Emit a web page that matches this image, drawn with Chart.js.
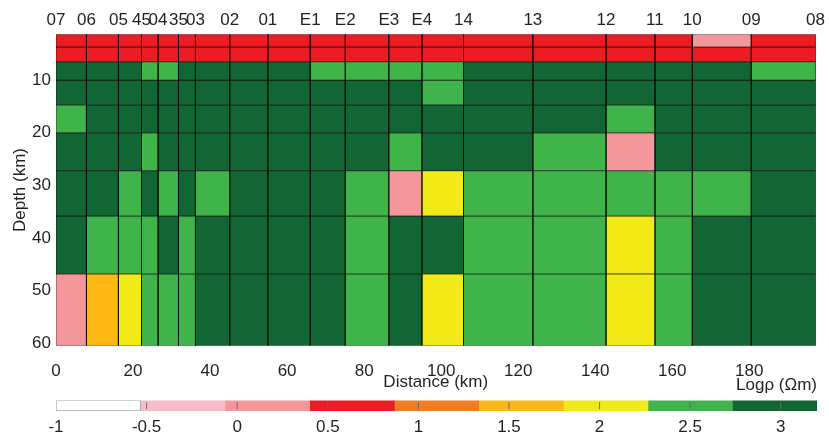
<!DOCTYPE html>
<html lang="en">
<head>
<meta charset="utf-8">
<script src="https://cdn.jsdelivr.net/npm/chart.js"></script>
<style>
  body { margin: 0; background: #fff; }
  #wrap { position: relative; width: 829px; height: 436px; }
  #main { position: absolute; left: 0; top: 0; }
  #bar { position: absolute; left: 0; top: 370px; }
</style>
</head>
<body>
<div id="wrap">
  <canvas id="main" width="829" height="397"></canvas>
  <canvas id="bar" width="829" height="66"></canvas>
</div>
<script>
// stations along the profile, placed at the left edge of their block
const stations = ["07", "06", "05", "45", "04", "35", "03", "02", "01", "E1", "E2", "E3", "E4", "14", "13", "12", "11", "10", "09", "08"];
const stationKm = [0, 7.9, 16.2, 22.2, 26.5, 31.8, 36.2, 45.1, 55.0, 66.0, 75.1, 86.4, 95.0, 105.8, 123.8, 142.8, 155.5, 165.2, 180.5, 197.2];

// layer boundaries (km)
const depthEdges = [1.3, 3.7, 6.5, 10, 14.7, 20, 27.2, 35.8, 46.8, 60.45];

// log10 resistivity per layer, one value per station block
const layer1 = [0.6, 0.6, 0.6, 0.6, 0.6, 0.6, 0.6, 0.6, 0.6, 0.6, 0.6, 0.6, 0.6, 0.6, 0.6, 0.6, 0.6, 0.2, 0.6];
const layer2 = [0.6, 0.6, 0.6, 0.6, 0.6, 0.6, 0.6, 0.6, 0.6, 0.6, 0.6, 0.6, 0.6, 0.6, 0.6, 0.6, 0.6, 0.6, 0.6];
const layer3 = [3, 3, 3, 2.5, 2.5, 3, 3, 3, 3, 2.5, 2.5, 2.5, 2.5, 3, 3, 3, 3, 3, 2.5];
const layer4 = [3, 3, 3, 3, 3, 3, 3, 3, 3, 3, 3, 3, 2.5, 3, 3, 3, 3, 3, 3];
const layer5 = [2.5, 3, 3, 3, 3, 3, 3, 3, 3, 3, 3, 3, 3, 3, 3, 2.5, 3, 3, 3];
const layer6 = [3, 3, 3, 2.5, 3, 3, 3, 3, 3, 3, 3, 2.5, 3, 3, 2.5, 0.2, 3, 3, 3];
const layer7 = [3, 3, 2.5, 3, 2.5, 3, 2.5, 3, 3, 3, 2.5, 0.2, 2, 2.5, 2.5, 2.5, 2.5, 2.5, 3];
const layer8 = [3, 2.5, 2.5, 2.5, 3, 2.5, 3, 3, 3, 3, 2.5, 3, 3, 2.5, 2.5, 2, 2.5, 3, 3];
const layer9 = [0.2, 1.6, 2, 2.5, 2.5, 2.5, 3, 3, 3, 3, 2.5, 3, 2, 2.5, 2.5, 2, 2.5, 3, 3];
const layers = [layer1, layer2, layer3, layer4, layer5, layer6, layer7, layer8, layer9];

// colour scale
const classEdges = [-1, -0.533, -0.067, 0.4, 0.867, 1.333, 1.8, 2.267, 2.733, 3.2];
const classColors = ["#ffffff", "#f7bbc9", "#f4979a", "#ed1c24", "#f47b20", "#fdb913", "#f2ea17", "#40b44a", "#116633"];
const barTicks = [-1, -0.5, 0, 0.5, 1, 1.5, 2, 2.5, 3];
const distTicks = [0, 20, 40, 60, 80, 100, 120, 140, 160, 180];
const depthTicks = [10, 20, 30, 40, 50, 60];

const FONT = { family: "'Liberation Sans', Arial, sans-serif", size: 17, weight: "normal" };
const TXT = "#231f20";

function colorFor(v) {
  for (let i = 0; i < classColors.length; i++) {
    if (v >= classEdges[i] && v < classEdges[i + 1]) return classColors[i];
  }
  return classColors[classColors.length - 1];
}

const cells = [];
layers.forEach((row, r) => {
  row.forEach((v, c) => {
    const x0 = stationKm[c], x1 = stationKm[c + 1];
    const y0 = depthEdges[r], y1 = depthEdges[r + 1];
    cells.push({
      data: [{x: x0, y: y0}, {x: x1, y: y0}, {x: x1, y: y1}, {x: x0, y: y1}, {x: x0, y: y0}],
      showLine: true,
      fill: "shape",
      backgroundColor: colorFor(v),
      borderColor: "rgba(0,0,0,0.55)",
      borderWidth: 1,
      pointRadius: 0,
      tension: 0,
    });
  });
});

const xMax = stationKm[stationKm.length - 1];

new Chart(document.getElementById("main"), {
  type: "scatter",
  data: { datasets: cells },
  options: {
    responsive: false,
    animation: false,
    events: [],
    layout: { padding: { left: 0, right: 12, top: 0, bottom: 0 } },
    plugins: { legend: { display: false }, tooltip: { enabled: false } },
    scales: {
      x: {
        type: "linear", position: "bottom", min: 0, max: xMax,
        afterBuildTicks: (s) => { s.ticks = distTicks.map((v) => ({ value: v })); },
        afterFit: (s) => { s.height = 51.3; },
        grid: { display: false }, border: { display: false },
        ticks: { font: FONT, color: TXT, padding: 7, maxRotation: 0, autoSkip: false, callback: (v) => String(v) },
        title: { display: true, text: "Distance (km)", font: FONT, color: TXT, padding: { top: 4, bottom: 4 } },
      },
      x2: {
        type: "linear", position: "top", min: 0, max: xMax,
        afterBuildTicks: (s) => { s.ticks = stationKm.map((v) => ({ value: v })); },
        afterFit: (s) => { s.height = 34.3; },
        grid: { display: false, drawTicks: false }, border: { display: false },
        ticks: { font: FONT, color: TXT, padding: 4, maxRotation: 0, autoSkip: false,
          callback: (v, i) => stations[i] },
      },
      y: {
        type: "linear", reverse: true, min: depthEdges[0], max: depthEdges[depthEdges.length - 1],
        afterBuildTicks: (s) => { s.ticks = depthTicks.map((v) => ({ value: v })); },
        afterFit: (s) => { s.width = 56; },
        grid: { display: false, drawTicks: false }, border: { display: false },
        ticks: { font: FONT, color: TXT, padding: 5, callback: (v) => String(v) },
        title: { display: true, text: "Depth (km)", font: FONT, color: TXT, padding: { top: 10, bottom: 0 } },
      },
    },
  },
});

// colour bar
const barSets = classColors.map((col, i) => ({
  data: [[classEdges[i], classEdges[i + 1]]],
  backgroundColor: col,
  borderColor: i === 0 ? "#a8a8a8" : col,
  borderWidth: i === 0 ? 1 : 0,
  borderSkipped: false,
  barPercentage: 1,
  categoryPercentage: 1,
  grouped: false,
}));

// small tick marks inside the bar
barSets.push({
  type: "scatter",
  indexAxis: "x",
  order: -1,
  data: barTicks.slice(1).map((v) => ({ x: v, y: "logρ" })),
  pointStyle: "line",
  rotation: 90,
  pointRadius: 3.5,
  borderColor: "#6b6b6b",
  borderWidth: 1,
});

new Chart(document.getElementById("bar"), {
  type: "bar",
  data: { labels: ["logρ"], datasets: barSets },
  options: {
    indexAxis: "y",
    responsive: false,
    animation: false,
    events: [],
    layout: { padding: { left: 56, right: 12, top: 0, bottom: 0 } },
    plugins: {
      legend: { display: false },
      tooltip: { enabled: false },
      title: { display: true, text: "Logρ (Ωm)", align: "end", font: FONT, color: TXT, padding: { top: 5, bottom: 5 } },
    },
    scales: {
      x: {
        type: "linear", position: "bottom", min: classEdges[0], max: classEdges[classEdges.length - 1],
        afterBuildTicks: (s) => { s.ticks = barTicks.map((v) => ({ value: v })); },
        afterFit: (s) => { s.height = 25; },
        grid: { display: false, drawTicks: false },
        border: { display: false },
        ticks: { font: FONT, color: TXT, padding: 6, maxRotation: 0, autoSkip: false, callback: (v) => String(v) },
      },
      y: { display: false },
    },
  },
});
</script>
</body>
</html>
